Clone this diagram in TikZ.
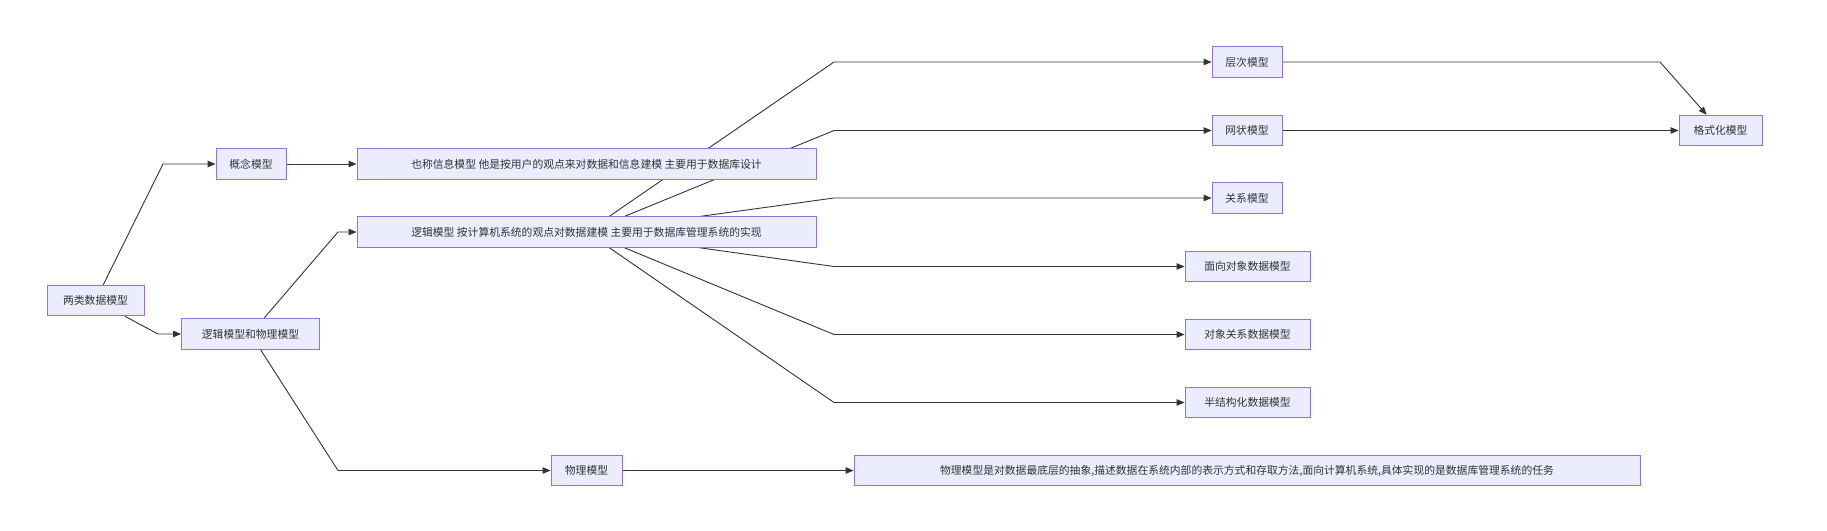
\documentclass[tikz,border=0pt]{standalone}
\usepackage{fontspec}
\newfontfamily\cjk{Noto Sans CJK SC}
\usetikzlibrary{arrows.meta}
\definecolor{boxfill}{HTML}{ECECFF}
\definecolor{boxline}{HTML}{9370DB}
\definecolor{ink}{HTML}{333333}
\pgfdeclarelayer{bg}
\pgfdeclarelayer{paper}
\pgfsetlayers{paper,bg,main}
\tikzset{
  box/.style={draw=boxline, fill=boxfill, line width=0.9pt, inner sep=0pt,
    minimum height=30.5pt, text=ink, font=\cjk\fontsize{10.8}{13}\selectfont},
  link/.style={draw=ink, line width=0.9pt, -{Triangle[length=8pt,width=6.5pt]}}
}
\begin{document}
\begin{tikzpicture}[x=1pt,y=-1pt]
\begin{pgfonlayer}{paper}
\fill[white] (0,0) rectangle (1827,530);
\end{pgfonlayer}
\useasboundingbox (0,0) rectangle (1827,530);
% nodes
\node[box, minimum width=97pt] (lei) at (95.5,300.5) {两类数据模型};
\node[box, minimum width=70pt] (gn) at (251,164) {概念模型};
\node[box, minimum width=138pt] (lw) at (250.5,334) {逻辑模型和物理模型};
\node[box, minimum width=459pt] (yc) at (586.5,164) {也称信息模型 他是按用户的观点来对数据和信息建模 主要用于数据库设计};
\node[box, minimum width=459pt] (lj) at (586.5,232) {逻辑模型 按计算机系统的观点对数据建模 主要用于数据库管理系统的实现};
\node[box, minimum width=71pt] (wl) at (586.5,470.5) {物理模型};
\node[box, minimum width=70pt] (cc) at (1247,62) {层次模型};
\node[box, minimum width=70pt] (wz) at (1247,130.5) {网状模型};
\node[box, minimum width=70pt] (gx) at (1247,198) {关系模型};
\node[box, minimum width=125pt] (mx) at (1247.5,266.5) {面向对象数据模型};
\node[box, minimum width=125pt] (dx) at (1247.5,334.5) {对象关系数据模型};
\node[box, minimum width=125pt] (bj) at (1247.5,402.5) {半结构化数据模型};
\node[box, minimum width=83pt] (gs) at (1720.5,130.5) {格式化模型};
\node[box, minimum width=786pt] (wls) at (1247,470.5) {物理模型是对数据最底层的抽象,描述数据在系统内部的表示方式和存取方法,面向计算机系统,具体实现的是数据库管理系统的任务};
% bend points
\coordinate (c1) at (163,164);
\coordinate (c2) at (158,334);
\coordinate (c3) at (338,232);
\coordinate (c4) at (338,470.5);
\coordinate (c5) at (834,62);
\coordinate (c6) at (834,130.5);
\coordinate (c7) at (834,198);
\coordinate (c8) at (834,266.5);
\coordinate (c9) at (834,334.5);
\coordinate (c10) at (834,402.5);
\coordinate (c11) at (1660,62);
% edges
\begin{pgfonlayer}{bg}
\draw[link] (lei) -- (c1) -- (gn);
\draw[link] (lei) -- (c2) -- (lw);
\draw[link] (gn) -- (yc);
\draw[link] (lw) -- (c3) -- (lj);
\draw[link] (lw) -- (c4) -- (wl);
\draw[link] (wl) -- (wls);
\draw[link] (lj) -- (c5) -- (cc);
\draw[link] (lj) -- (c6) -- (wz);
\draw[link] (lj) -- (c7) -- (gx);
\draw[link] (lj) -- (c8) -- (mx);
\draw[link] (lj) -- (c9) -- (dx);
\draw[link] (lj) -- (c10) -- (bj);
\draw[link] (cc) -- (c11) -- (gs);
\draw[link] (wz) -- (gs);
\end{pgfonlayer}
\end{tikzpicture}
\end{document}
